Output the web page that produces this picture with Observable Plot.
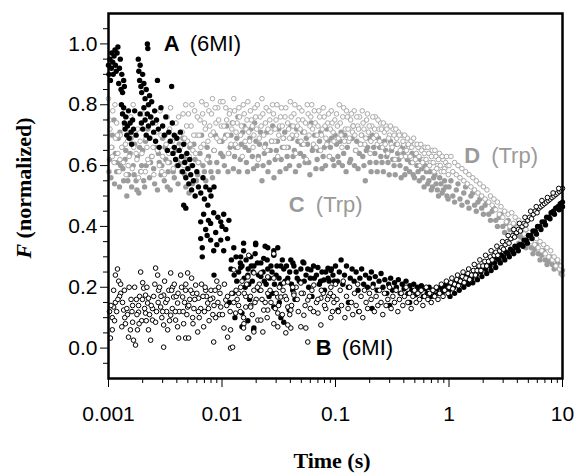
<!DOCTYPE html>
<html>
<head>
<meta charset="utf-8">
<script src="https://cdn.jsdelivr.net/npm/d3@7"></script>
<script src="https://cdn.jsdelivr.net/npm/@observablehq/plot@0.6"></script>
<style>
  html, body { margin: 0; padding: 0; background: #fff; }
  #chart { width: 574px; height: 473px; }
</style>
</head>
<body>
<div id="chart"></div>
<script>
// ---- Data: [time (s), F (normalized)] ----
// Series A (6MI), filled black
const seriesA = [
  [0.00100,0.93],[0.00101,0.90],[0.00103,0.95],[0.00104,0.88],[0.00106,0.92],[0.00107,0.97],[0.00109,0.94],[0.00110,0.90],[0.00112,0.96],[0.00114,0.98],[0.00115,0.93],[0.00117,0.91],[0.00119,0.97],[0.00121,0.99],[0.00123,0.87],[0.00125,0.92],[0.00127,0.95],[0.00129,0.85],[0.00131,0.90],[0.00133,0.84],[0.00136,0.88],[0.00138,0.86],
  [0.00130,0.80],[0.00133,0.77],[0.00136,0.79],[0.00138,0.74],[0.00140,0.72],[0.00142,0.76],[0.00145,0.70],[0.00147,0.73],[0.00150,0.78],[0.00152,0.69],[0.00155,0.74],[0.00158,0.71],[0.00160,0.67],[0.00163,0.75],[0.00166,0.72],[0.00170,0.78],[0.00175,0.70],
  [0.00183,0.95],[0.00185,0.91],[0.00188,0.88],[0.00190,0.93],[0.00193,0.86],[0.00196,0.84],[0.00200,0.90],[0.00205,0.87],[0.00210,0.82],[0.00215,0.85],[0.00220,1.00],[0.00222,0.985],[0.00225,0.80],[0.00230,0.83],
  [0.00190,0.77],[0.00195,0.74],[0.00200,0.72],[0.00205,0.79],[0.00210,0.75],[0.00215,0.70],[0.00220,0.77],[0.00225,0.73],[0.00230,0.69],[0.00235,0.76],[0.00240,0.81],[0.00245,0.74],[0.00250,0.71],[0.00255,0.78],[0.00260,0.68],[0.00265,0.75],[0.00270,0.88],[0.00275,0.72],[0.00280,0.66],[0.00290,0.79],[0.00300,0.73],[0.00310,0.70],[0.00320,0.76],[0.00330,0.65],[0.00340,0.71],[0.00350,0.68],[0.00360,0.86],[0.00365,0.74],[0.00370,0.64],[0.00380,0.70],
  [0.00380,0.66],[0.00390,0.62],[0.00400,0.69],[0.00410,0.60],[0.00420,0.65],[0.00430,0.71],[0.00440,0.63],[0.00450,0.58],[0.00460,0.67],[0.00470,0.61],[0.00480,0.56],[0.00490,0.64],[0.00500,0.59],[0.00510,0.54],[0.00520,0.62],[0.00530,0.57],[0.00540,0.52],[0.00550,0.60],[0.00560,0.55],[0.00580,0.50],[0.00600,0.58],[0.00620,0.53],
  [0.00650,0.51],[0.00680,0.56],[0.00700,0.49],[0.00720,0.53],[0.00750,0.47],[0.00780,0.52],[0.00800,0.50],[0.00850,0.53],[0.00460,0.47],[0.00480,0.46],
  [0.00689,0.44],[0.00845,0.445],[0.01035,0.44],[0.00649,0.415],[0.00794,0.41],[0.00975,0.415],[0.01150,0.42],[0.00718,0.39],[0.00880,0.38],[0.01080,0.39],[0.00649,0.36],[0.00794,0.355],[0.00975,0.355],[0.01120,0.36],[0.00670,0.33],[0.00845,0.32],[0.01035,0.32],[0.00670,0.30],[0.00760,0.42],[0.00920,0.43],[0.00740,0.37],[0.01000,0.40],[0.00900,0.34],
  [0.0127,0.33],[0.0155,0.32],[0.0198,0.345],[0.0253,0.33],[0.0310,0.33],[0.0146,0.30],[0.0179,0.30],[0.0233,0.295],[0.0286,0.305],[0.0146,0.265],[0.0191,0.27],[0.0253,0.26],[0.0330,0.27],[0.0169,0.24],[0.0220,0.235],[0.0404,0.29],[0.0526,0.28],[0.0699,0.265],[0.0911,0.255],
  [0.0155,0.345],[0.0198,0.34],[0.0240,0.335],[0.0286,0.32],[0.0421,0.28],[0.0516,0.283],[0.0607,0.257],[0.0858,0.263],[0.0790,0.224],
  [0.0286,0.135],[0.0330,0.10],[0.0191,0.066],[0.0169,0.09],[0.0150,0.115],[0.0190,0.06],[0.0150,0.07],[0.0130,0.10],[0.0116,0.15],[0.0350,0.085],[0.0390,0.125],[0.0085,0.24],
  [0.0120,0.26],[0.0135,0.22],[0.0145,0.28],[0.0160,0.20],[0.0170,0.26],[0.0185,0.22],[0.0205,0.28],[0.0215,0.19],[0.0230,0.25],[0.0245,0.21],[0.0270,0.27],[0.0280,0.18],[0.0300,0.24],[0.0330,0.21],[0.0350,0.26],[0.0380,0.23],[0.0420,0.19],[0.0450,0.25],[0.0480,0.22],[0.0550,0.24],[0.0580,0.20],[0.0650,0.23],[0.0720,0.21],[0.0760,0.25],[0.0800,0.19],[0.0880,0.22],[0.0950,0.24],[0.0125,0.18],[0.0175,0.16],[0.0260,0.17],[0.0320,0.15],[0.0440,0.16],[0.0620,0.17],
  [0.0121,0.29],[0.0128,0.24],[0.0133,0.30],[0.0140,0.25],[0.0150,0.27],[0.0157,0.23],[0.0163,0.29],[0.0172,0.21],[0.0181,0.27],[0.0188,0.25],[0.0196,0.31],[0.0210,0.24],[0.0220,0.28],[0.0236,0.22],[0.0250,0.29],[0.0262,0.23],[0.0276,0.25],[0.0290,0.21],[0.0305,0.27],[0.0318,0.23],[0.0340,0.29],[0.0360,0.22],[0.0370,0.27],[0.0395,0.25],[0.0410,0.21],[0.0430,0.27],[0.0460,0.23],[0.0495,0.26],[0.0530,0.22],[0.0570,0.26],[0.0600,0.23],[0.0640,0.27],[0.0680,0.24],[0.0740,0.22],[0.0820,0.25],[0.0860,0.23],[0.0920,0.26],[0.0980,0.22],
  [0.100,0.27],[0.104,0.22],[0.108,0.25],[0.112,0.29],[0.116,0.21],[0.120,0.24],[0.125,0.27],[0.130,0.20],[0.135,0.23],[0.140,0.26],[0.146,0.22],[0.152,0.25],[0.158,0.19],[0.164,0.23],[0.170,0.26],[0.177,0.21],[0.184,0.24],[0.191,0.20],[0.199,0.23],[0.207,0.25],[0.215,0.21],[0.224,0.235],[0.233,0.19],[0.242,0.22],[0.252,0.245],[0.262,0.20],[0.272,0.225],[0.283,0.18],[0.294,0.21],[0.306,0.23],[0.318,0.19],[0.331,0.215],[0.344,0.20],[0.358,0.225],[0.372,0.18],[0.387,0.21],[0.402,0.195],[0.418,0.22],[0.435,0.18],[0.452,0.205],[0.470,0.19],[0.489,0.21],[0.508,0.175],[0.528,0.20],[0.549,0.185],[0.571,0.205],[0.594,0.17],[0.618,0.195],[0.642,0.18],[0.668,0.20],[0.694,0.17],[0.722,0.19],[0.751,0.175],[0.781,0.195],[0.812,0.18],[0.844,0.20],[0.878,0.185],[0.913,0.205],[0.949,0.19],[0.987,0.21],
  [0.130,0.15],[0.210,0.13],[0.300,0.14],[0.450,0.15],[0.160,0.12],[0.105,0.125],
  [1.00,0.19],[1.05,0.21],[1.10,0.20],[1.15,0.22],[1.20,0.21],[1.26,0.225],[1.32,0.215],[1.38,0.235],[1.45,0.225],[1.52,0.24],[1.59,0.23],[1.66,0.25],[1.74,0.24],[1.82,0.26],[1.91,0.25],[2.00,0.265],[2.10,0.26],[2.20,0.275],[2.30,0.27],[2.41,0.285],[2.52,0.28],[2.64,0.295],[2.76,0.29],[2.89,0.305],[3.03,0.30],[3.17,0.315],[3.32,0.31],[3.48,0.325],[3.64,0.32],[3.81,0.335],[3.99,0.33],[4.18,0.34],[4.38,0.34],[4.58,0.355],[4.80,0.355],[5.02,0.37],[5.26,0.37],[5.50,0.385],[5.76,0.385],[6.03,0.40],[6.32,0.40],[6.61,0.415],[6.92,0.415],[7.25,0.43],[7.59,0.43],[7.94,0.445],[8.32,0.45],[8.71,0.46],[9.12,0.465],[9.55,0.475],[10.0,0.48],
  [1.02,0.17],[1.12,0.18],[1.23,0.19],[1.35,0.20],[1.48,0.21],[1.62,0.215],[1.78,0.225],[1.95,0.235],[2.15,0.245],[2.35,0.255],[2.58,0.265],[2.83,0.28],[3.10,0.29],[3.40,0.30],[3.72,0.31],[4.08,0.32],[4.48,0.335],[4.90,0.345],[5.38,0.36],[5.90,0.375],[6.46,0.39],[7.08,0.405],[7.76,0.425],[8.50,0.44],[9.33,0.455],[10.0,0.465]
];

// Series B (6MI), open black
const seriesB = [
  [0.00120,0.26],[0.00115,0.24],[0.00123,0.22],[0.00128,0.21],[0.00111,0.19],[0.00128,0.18],[0.00115,0.15],[0.00133,0.15],[0.00111,0.135],[0.00136,0.125],[0.00108,0.10],[0.00147,0.11],[0.00141,0.08],[0.00163,0.085],[0.00108,0.06],[0.00104,0.033],[0.00150,0.036],[0.00166,0.026],[0.00173,0.01],[0.00156,0.06],[0.00180,0.06],[0.00163,0.14],[0.00184,0.14],[0.00200,0.215],[0.00192,0.25],[0.00204,0.197],[0.00212,0.174],[0.00225,0.164],[0.00221,0.148],[0.00184,0.118],[0.00212,0.115],[0.00244,0.13],[0.00244,0.092],[0.00225,0.06],[0.00235,0.026],[0.00260,0.263],[0.00271,0.24],[0.00276,0.19],[0.00306,0.174],[0.00319,0.15],[0.00288,0.135],[0.00260,0.085],[0.00306,0.076],[0.00332,0.06],[0.00306,0.003],[0.00353,0.247],[0.00367,0.20],[0.00375,0.168],[0.00406,0.148],[0.00353,0.108],[0.00390,0.092],[0.00406,0.07],[0.00415,0.033],[0.00478,0.033],[0.00508,0.033],[0.00432,0.24],[0.00498,0.247],[0.00478,0.19],[0.00450,0.168],[0.00498,0.135],[0.00459,0.08],[0.00551,0.18],[0.00586,0.207],[0.00622,0.164],[0.00551,0.10],[0.00611,0.053],[0.00649,0.13],[0.00718,0.19],[0.00748,0.148],[0.00689,0.07],[0.00828,0.164],[0.00879,0.10],[0.00845,0.02],[0.00935,0.20],[0.00975,0.135],
  [0.00105,0.14],[0.00118,0.12],[0.00125,0.17],[0.00138,0.19],[0.00145,0.13],[0.00158,0.16],[0.00170,0.20],[0.00178,0.11],[0.00188,0.17],[0.00196,0.09],[0.00208,0.13],[0.00218,0.20],[0.00230,0.11],[0.00250,0.17],[0.00265,0.12],[0.00282,0.20],[0.00295,0.10],[0.00312,0.22],[0.00325,0.12],[0.00340,0.19],[0.00365,0.13],[0.00380,0.21],[0.00395,0.17],[0.00420,0.12],[0.00440,0.20],[0.00468,0.15],[0.00490,0.11],[0.00520,0.16],[0.00540,0.23],[0.00565,0.13],[0.00600,0.18],[0.00630,0.10],[0.00660,0.21],[0.00700,0.12],[0.00730,0.17],[0.00770,0.09],[0.00800,0.19],[0.00850,0.14],[0.00900,0.22],[0.00950,0.11],
  [0.00102,0.12],[0.00113,0.09],[0.00121,0.16],[0.00131,0.07],[0.00139,0.10],[0.00152,0.20],[0.00161,0.12],[0.00176,0.16],[0.00186,0.08],[0.00199,0.16],[0.00215,0.09],[0.00238,0.14],[0.00256,0.21],[0.00274,0.15],[0.00290,0.17],[0.00300,0.12],[0.00330,0.16],[0.00345,0.09],[0.00360,0.19],[0.00388,0.12],[0.00410,0.18],[0.00455,0.12],[0.00480,0.21],[0.00510,0.14],[0.00530,0.19],[0.00555,0.08],[0.00575,0.16],[0.00620,0.12],[0.00680,0.17],[0.00710,0.20],[0.00760,0.13],[0.00790,0.16],[0.00830,0.11],[0.00870,0.19],[0.00920,0.15],[0.00960,0.18],
  [0.0104,0.066],[0.0112,0.036],[0.0119,0.0],[0.0124,0.003],[0.0108,0.158],[0.0132,0.115],[0.0140,0.18],[0.0162,0.135],[0.0156,0.08],[0.0172,0.033],[0.0172,0.305],
  [0.0286,0.31],[0.0127,0.257],[0.0191,0.247],[0.0253,0.234],[0.0350,0.214],[0.0146,0.20],[0.0220,0.19],[0.0310,0.168],[0.0430,0.18],[0.0127,0.15],[0.0179,0.14],[0.0253,0.125],[0.0380,0.135],[0.0155,0.10],[0.0207,0.092],[0.0310,0.07],[0.0404,0.066],[0.0365,0.05],[0.0169,0.033],[0.0119,0.06],
  [0.0169,0.234],[0.0220,0.247],[0.0286,0.23],[0.0380,0.217],[0.0495,0.214],[0.0644,0.207],[0.0910,0.20],[0.0191,0.19],[0.0253,0.18],[0.0330,0.168],[0.0430,0.174],[0.0570,0.158],[0.0743,0.164],[0.0968,0.15],[0.0179,0.135],[0.0233,0.125],[0.0310,0.115],[0.0404,0.125],[0.0526,0.108],[0.0700,0.115],[0.0910,0.10],[0.0220,0.092],[0.0286,0.08],[0.0380,0.076],[0.0495,0.07],[0.0743,0.076],[0.0155,0.066],[0.0191,0.053],[0.0229,0.053],[0.0548,0.066],[0.0570,0.02],
  [0.0105,0.21],[0.0112,0.17],[0.0118,0.12],[0.0133,0.19],[0.0140,0.14],[0.0150,0.22],[0.0162,0.17],[0.0185,0.11],[0.0200,0.16],[0.0213,0.21],[0.0240,0.15],[0.0265,0.19],[0.0295,0.13],[0.0320,0.20],[0.0340,0.11],[0.0360,0.17],[0.0410,0.14],[0.0450,0.20],[0.0470,0.12],[0.0520,0.18],[0.0600,0.13],[0.0620,0.19],[0.0680,0.15],[0.0780,0.18],[0.0820,0.13],[0.0870,0.17],[0.0940,0.12],
  [0.0101,0.11],[0.0110,0.14],[0.0122,0.18],[0.0136,0.16],[0.0145,0.12],[0.0157,0.18],[0.0165,0.21],[0.0178,0.17],[0.0195,0.15],[0.0205,0.20],[0.0225,0.16],[0.0250,0.10],[0.0270,0.15],[0.0300,0.18],[0.0315,0.14],[0.0345,0.19],[0.0370,0.16],[0.0395,0.11],[0.0420,0.20],[0.0460,0.16],[0.0500,0.18],[0.0540,0.14],[0.0590,0.17],[0.0640,0.12],[0.0700,0.16],[0.0750,0.19],[0.0800,0.14],[0.0850,0.16],[0.0900,0.18],[0.0960,0.17],
  [0.100,0.21],[0.103,0.16],[0.106,0.12],[0.110,0.19],[0.113,0.14],[0.117,0.22],[0.121,0.10],[0.125,0.17],[0.129,0.13],[0.133,0.20],[0.138,0.15],[0.142,0.11],[0.147,0.18],[0.152,0.14],[0.157,0.21],[0.162,0.12],[0.168,0.17],[0.174,0.10],[0.180,0.19],[0.186,0.15],[0.192,0.13],[0.199,0.18],[0.206,0.16],[0.213,0.20],[0.220,0.12],[0.228,0.17],[0.236,0.14],[0.244,0.19],[0.252,0.15],[0.261,0.11],[0.270,0.18],[0.279,0.14],[0.289,0.16],[0.299,0.20],[0.309,0.13],[0.320,0.17],[0.331,0.15],[0.342,0.19],[0.354,0.12],[0.366,0.16],[0.379,0.18],[0.392,0.14],[0.405,0.17],[0.419,0.20],[0.434,0.15],[0.449,0.18],[0.464,0.13],[0.480,0.17],[0.497,0.19],[0.514,0.15],[0.532,0.18],[0.550,0.16],[0.569,0.19],[0.589,0.14],[0.609,0.17],[0.630,0.20],[0.652,0.16],[0.675,0.18],[0.698,0.15],[0.722,0.19],[0.747,0.17],[0.773,0.20],[0.800,0.16],[0.827,0.18],[0.856,0.21],[0.886,0.17],[0.916,0.19],[0.948,0.22],[0.981,0.18],
  [1.00,0.20],[1.04,0.215],[1.08,0.195],[1.12,0.21],[1.17,0.225],[1.21,0.205],[1.26,0.22],[1.31,0.235],[1.36,0.215],[1.41,0.23],[1.47,0.245],[1.52,0.225],[1.58,0.24],[1.64,0.255],[1.71,0.24],[1.77,0.255],[1.84,0.27],[1.91,0.255],[1.99,0.27],[2.07,0.285],[2.15,0.27],[2.23,0.285],[2.31,0.30],[2.40,0.29],[2.50,0.305],[2.59,0.315],[2.69,0.305],[2.80,0.32],[2.91,0.33],[3.02,0.325],[3.13,0.34],[3.26,0.35],[3.38,0.345],[3.51,0.36],[3.65,0.37],[3.79,0.365],[3.94,0.38],[4.09,0.39],[4.25,0.385],[4.41,0.40],[4.58,0.41],[4.76,0.405],[4.94,0.42],[5.13,0.43],[5.33,0.425],[5.54,0.44],[5.75,0.45],[5.97,0.445],[6.20,0.46],[6.44,0.465],[6.69,0.47],[6.95,0.475],[7.22,0.48],[7.50,0.485],[7.79,0.49],[8.09,0.495],[8.40,0.50],[8.73,0.505],[9.06,0.51],[9.41,0.515],[9.70,0.52],[10.0,0.525],
  [1.06,0.23],[1.19,0.24],[1.33,0.25],[1.49,0.26],[1.67,0.275],[1.87,0.29],[2.10,0.305],[2.35,0.32],[2.64,0.335],[2.96,0.35],[3.32,0.37],[3.72,0.39],[4.17,0.41],[4.67,0.43],[5.24,0.45],[5.87,0.465],[6.58,0.485],[7.37,0.495],[8.26,0.51],[9.26,0.525]
];

// Series C (Trp), filled gray
const seriesC = [
  [0.00102,0.62],[0.00105,0.56],[0.00108,0.70],[0.00112,0.75],[0.00115,0.64],[0.00118,0.58],[0.00122,0.69],[0.00125,0.53],[0.00128,0.60],[0.00132,0.66],[0.00136,0.55],[0.00140,0.62],[0.00145,0.50],[0.00150,0.57],[0.00155,0.64],[0.00160,0.53],[0.00165,0.60],[0.00170,0.67],[0.00175,0.55],[0.00180,0.63],[0.00185,0.51],[0.00192,0.58],[0.00200,0.65],[0.00208,0.53],[0.00215,0.60],[0.00222,0.72],[0.00230,0.56],[0.00240,0.63],[0.00250,0.59],[0.00260,0.66],[0.00270,0.52],[0.00280,0.61],[0.00290,0.57],[0.00300,0.69],[0.00310,0.55],[0.00320,0.62],[0.00335,0.58],[0.00350,0.52],[0.00365,0.64],[0.00380,0.56],[0.00400,0.60],[0.00420,0.67],[0.00440,0.58],[0.00460,0.63],[0.00480,0.53],[0.00500,0.59],[0.00520,0.66],[0.00550,0.54],[0.00580,0.62],[0.00610,0.57],[0.00640,0.64],[0.00680,0.60],[0.00720,0.55],[0.00760,0.63],[0.00800,0.58],[0.00850,0.65],[0.00900,0.61],[0.00950,0.68],
  [0.00101,0.58],[0.00107,0.66],[0.00113,0.54],[0.00120,0.61],[0.00126,0.71],[0.00134,0.59],[0.00142,0.65],[0.00148,0.55],[0.00158,0.69],[0.00168,0.57],[0.00178,0.52],[0.00188,0.66],[0.00196,0.60],[0.00204,0.55],[0.00212,0.68],[0.00235,0.61],[0.00255,0.54],[0.00275,0.64],[0.00295,0.60],[0.00315,0.66],[0.00330,0.53],[0.00345,0.61],[0.00372,0.58],[0.00390,0.65],[0.00410,0.54],[0.00432,0.61],[0.00452,0.69],[0.00470,0.57],[0.00492,0.62],[0.00512,0.51],[0.00535,0.60],[0.00565,0.67],[0.00595,0.55],[0.00625,0.61],[0.00660,0.70],[0.00700,0.58],[0.00740,0.66],[0.00780,0.61],[0.00825,0.56],[0.00875,0.70],[0.00925,0.58],[0.00975,0.64],
  [0.0100,0.68],[0.0105,0.60],[0.0110,0.73],[0.0115,0.64],[0.0120,0.70],[0.0126,0.59],[0.0132,0.66],[0.0138,0.76],[0.0145,0.62],[0.0152,0.71],[0.0160,0.66],[0.0168,0.58],[0.0176,0.69],[0.0185,0.63],[0.0194,0.74],[0.0204,0.60],[0.0214,0.67],[0.0225,0.55],[0.0236,0.64],[0.0248,0.71],[0.0260,0.61],[0.0273,0.68],[0.0287,0.56],[0.0301,0.65],[0.0316,0.72],[0.0332,0.62],[0.0348,0.69],[0.0366,0.59],[0.0384,0.66],[0.0403,0.73],[0.0423,0.63],[0.0444,0.58],[0.0466,0.68],[0.0490,0.64],[0.0514,0.71],[0.0540,0.61],[0.0567,0.67],[0.0595,0.57],[0.0625,0.65],[0.0656,0.70],[0.0689,0.62],[0.0723,0.68],[0.0760,0.59],[0.0798,0.66],[0.0838,0.72],[0.0880,0.63],[0.0924,0.69],[0.0970,0.60],
  [0.0102,0.63],[0.0108,0.70],[0.0113,0.58],[0.0118,0.66],[0.0123,0.74],[0.0129,0.63],[0.0135,0.69],[0.0141,0.58],[0.0148,0.67],[0.0156,0.73],[0.0164,0.61],[0.0172,0.65],[0.0180,0.72],[0.0190,0.59],[0.0199,0.68],[0.0209,0.63],[0.0219,0.71],[0.0230,0.60],[0.0242,0.67],[0.0254,0.58],[0.0266,0.65],[0.0280,0.73],[0.0294,0.62],[0.0308,0.68],[0.0324,0.58],[0.0340,0.66],[0.0357,0.71],[0.0375,0.63],[0.0394,0.60],[0.0413,0.69],[0.0434,0.65],[0.0455,0.72],[0.0478,0.60],[0.0502,0.67],[0.0527,0.63],[0.0553,0.69],[0.0581,0.61],[0.0610,0.74],[0.0640,0.66],[0.0672,0.59],[0.0706,0.65],[0.0741,0.71],[0.0778,0.63],[0.0817,0.60],[0.0858,0.68],[0.0901,0.66],[0.0946,0.62],[0.0993,0.70],
  [0.102,0.67],[0.107,0.61],[0.112,0.71],[0.118,0.64],[0.124,0.58],[0.130,0.68],[0.136,0.62],[0.143,0.73],[0.150,0.65],[0.158,0.59],[0.166,0.67],[0.174,0.63],[0.183,0.55],[0.192,0.66],[0.201,0.61],[0.211,0.70],[0.222,0.64],[0.233,0.58],[0.245,0.66],[0.257,0.61],[0.270,0.68],[0.283,0.63],[0.297,0.57],[0.312,0.65],[0.328,0.60],[0.344,0.67],[0.361,0.62],[0.379,0.56],[0.398,0.64],[0.418,0.59],[0.439,0.66],[0.461,0.61],[0.484,0.57],[0.508,0.63],[0.534,0.58],[0.560,0.62],[0.588,0.56],[0.618,0.60],[0.649,0.54],[0.681,0.58],[0.715,0.53],[0.751,0.57],[0.789,0.52],[0.828,0.56],[0.870,0.51],[0.913,0.55],[0.959,0.50],
  [0.105,0.63],[0.110,0.68],[0.115,0.60],[0.121,0.70],[0.127,0.66],[0.133,0.61],[0.140,0.69],[0.147,0.60],[0.154,0.68],[0.162,0.64],[0.170,0.70],[0.178,0.60],[0.187,0.65],[0.197,0.69],[0.206,0.58],[0.217,0.66],[0.228,0.61],[0.239,0.69],[0.251,0.63],[0.264,0.58],[0.277,0.65],[0.290,0.61],[0.305,0.68],[0.320,0.62],[0.336,0.57],[0.353,0.64],[0.370,0.60],[0.389,0.66],[0.408,0.57],[0.429,0.62],[0.450,0.58],[0.473,0.64],[0.496,0.56],[0.521,0.60],[0.547,0.55],[0.574,0.59],[0.603,0.53],[0.633,0.58],[0.665,0.55],[0.698,0.52],[0.733,0.56],[0.770,0.54],[0.808,0.50],[0.849,0.54],[0.891,0.52],[0.936,0.53],[0.982,0.49],
  [1.00,0.53],[1.08,0.50],[1.16,0.52],[1.25,0.49],[1.35,0.51],[1.45,0.48],[1.56,0.50],[1.68,0.47],[1.80,0.48],[1.94,0.46],[2.08,0.47],[2.24,0.44],[2.40,0.45],[2.58,0.42],[2.77,0.43],[2.98,0.40],[3.20,0.41],[3.44,0.39],[3.70,0.385],[3.97,0.37],[4.27,0.365],[4.59,0.35],[4.93,0.345],[5.30,0.33],[5.69,0.325],[6.11,0.31],[6.57,0.305],[7.05,0.29],[7.58,0.285],[8.14,0.275],[8.75,0.27],[9.40,0.26],[10.0,0.255],
  [1.04,0.55],[1.12,0.48],[1.20,0.54],[1.30,0.47],[1.40,0.53],[1.50,0.46],[1.62,0.51],[1.74,0.45],[1.87,0.49],[2.01,0.44],[2.16,0.48],[2.32,0.42],[2.49,0.46],[2.67,0.40],[2.87,0.44],[3.09,0.38],[3.32,0.42],[3.57,0.36],[3.83,0.40],[4.12,0.345],[4.43,0.38],[4.76,0.33],[5.11,0.36],[5.49,0.31],[5.90,0.34],[6.34,0.29],[6.81,0.32],[7.31,0.275],[7.86,0.30],[8.44,0.26],[9.07,0.28],[9.70,0.245]
];

// Series D (Trp), open gray
const seriesD = [
  [0.00100,0.82],[0.00103,0.72],[0.00106,0.66],[0.00109,0.78],[0.00112,0.61],[0.00115,0.69],[0.00118,0.74],[0.00121,0.64],[0.00124,0.58],[0.00127,0.70],[0.00131,0.66],[0.00135,0.61],[0.00139,0.73],[0.00143,0.57],[0.00147,0.68],[0.00152,0.63],[0.00157,0.76],[0.00162,0.59],[0.00167,0.66],[0.00172,0.71],[0.00178,0.62],[0.00184,0.56],[0.00190,0.68],[0.00197,0.64],[0.00204,0.72],[0.00211,0.58],[0.00218,0.66],[0.00226,0.61],[0.00234,0.69],[0.00242,0.63],[0.00251,0.57],[0.00260,0.74],[0.00270,0.65],[0.00280,0.60],[0.00290,0.70],[0.00300,0.63],[0.00311,0.57],[0.00322,0.67],[0.00334,0.61],[0.00346,0.72],[0.00359,0.65],[0.00372,0.59],[0.00386,0.69],[0.00400,0.62],[0.00415,0.76],[0.00430,0.66],[0.00446,0.71],[0.00462,0.60],[0.00479,0.80],[0.00497,0.68],[0.00515,0.63],[0.00534,0.73],[0.00554,0.65],[0.00574,0.78],[0.00595,0.70],[0.00617,0.61],[0.00640,0.75],[0.00663,0.81],[0.00688,0.67],[0.00713,0.72],[0.00739,0.62],[0.00766,0.78],[0.00794,0.70],[0.00823,0.82],[0.00854,0.65],[0.00885,0.74],[0.00917,0.79],[0.00951,0.68],[0.00986,0.73],
  [0.00102,0.75],[0.00108,0.63],[0.00114,0.80],[0.00120,0.70],[0.00126,0.62],[0.00133,0.77],[0.00141,0.67],[0.00149,0.60],[0.00155,0.71],[0.00165,0.80],[0.00175,0.64],[0.00181,0.72],[0.00194,0.58],[0.00201,0.77],[0.00214,0.69],[0.00222,0.62],[0.00238,0.76],[0.00247,0.66],[0.00265,0.71],[0.00285,0.78],[0.00295,0.58],[0.00316,0.70],[0.00328,0.76],[0.00340,0.64],[0.00352,0.79],[0.00365,0.68],[0.00393,0.74],[0.00408,0.66],[0.00422,0.70],[0.00438,0.62],[0.00454,0.77],[0.00470,0.69],[0.00488,0.73],[0.00506,0.77],[0.00524,0.67],[0.00544,0.80],[0.00564,0.70],[0.00585,0.64],[0.00606,0.76],[0.00628,0.70],[0.00651,0.66],[0.00675,0.77],[0.00700,0.74],[0.00726,0.80],[0.00752,0.68],[0.00780,0.73],[0.00808,0.77],[0.00838,0.71],[0.00869,0.79],[0.00901,0.69],[0.00934,0.75],[0.00968,0.81],
  [0.0102,0.81],[0.0106,0.69],[0.0110,0.75],[0.0114,0.64],[0.0118,0.78],[0.0122,0.72],[0.0127,0.82],[0.0131,0.67],[0.0136,0.74],[0.0141,0.79],[0.0146,0.70],[0.0151,0.63],[0.0157,0.77],[0.0163,0.72],[0.0169,0.81],[0.0175,0.68],[0.0181,0.75],[0.0188,0.66],[0.0195,0.79],[0.0202,0.72],[0.0209,0.62],[0.0217,0.76],[0.0225,0.82],[0.0233,0.70],[0.0241,0.74],[0.0250,0.65],[0.0259,0.78],[0.0269,0.71],[0.0279,0.80],[0.0289,0.68],[0.0299,0.75],[0.0310,0.63],[0.0322,0.73],[0.0334,0.79],[0.0346,0.69],[0.0359,0.76],[0.0372,0.66],[0.0386,0.72],[0.0400,0.81],[0.0415,0.70],[0.0430,0.77],[0.0446,0.64],[0.0462,0.73],[0.0479,0.79],[0.0497,0.68],[0.0515,0.75],[0.0534,0.71],[0.0554,0.62],[0.0574,0.77],[0.0595,0.73],[0.0617,0.80],[0.0640,0.67],[0.0663,0.74],[0.0688,0.70],[0.0713,0.78],[0.0739,0.65],[0.0766,0.72],[0.0794,0.76],[0.0823,0.69],[0.0854,0.74],[0.0885,0.63],[0.0917,0.78],[0.0951,0.71],[0.0986,0.75],
  [0.0104,0.73],[0.0108,0.79],[0.0112,0.70],[0.0116,0.77],[0.0120,0.67],[0.0125,0.74],[0.0129,0.78],[0.0133,0.71],[0.0138,0.66],[0.0143,0.76],[0.0148,0.73],[0.0154,0.80],[0.0160,0.68],[0.0166,0.75],[0.0172,0.71],[0.0178,0.78],[0.0185,0.73],[0.0191,0.70],[0.0198,0.76],[0.0205,0.80],[0.0213,0.69],[0.0221,0.73],[0.0229,0.77],[0.0237,0.66],[0.0245,0.79],[0.0254,0.72],[0.0264,0.75],[0.0274,0.68],[0.0284,0.77],[0.0294,0.72],[0.0305,0.80],[0.0316,0.70],[0.0328,0.76],[0.0340,0.73],[0.0352,0.66],[0.0365,0.79],[0.0379,0.74],[0.0393,0.69],[0.0407,0.76],[0.0422,0.73],[0.0438,0.80],[0.0454,0.70],[0.0470,0.75],[0.0488,0.72],[0.0506,0.78],[0.0524,0.67],[0.0544,0.74],[0.0564,0.80],[0.0585,0.70],[0.0606,0.76],[0.0628,0.72],[0.0651,0.78],[0.0675,0.66],[0.0700,0.73],[0.0726,0.76],[0.0752,0.70],[0.0780,0.79],[0.0808,0.73],[0.0838,0.67],[0.0869,0.77],[0.0901,0.72],[0.0934,0.74],[0.0968,0.68],
  [0.102,0.77],[0.106,0.69],[0.110,0.74],[0.114,0.66],[0.118,0.79],[0.122,0.72],[0.127,0.76],[0.131,0.68],[0.136,0.75],[0.141,0.71],[0.146,0.78],[0.151,0.65],[0.157,0.73],[0.163,0.76],[0.169,0.70],[0.175,0.74],[0.181,0.67],[0.188,0.75],[0.195,0.71],[0.202,0.64],[0.209,0.73],[0.217,0.69],[0.225,0.76],[0.233,0.67],[0.241,0.72],[0.250,0.74],[0.259,0.66],[0.269,0.71],[0.279,0.73],[0.289,0.64],[0.299,0.70],[0.310,0.67],[0.322,0.72],[0.334,0.62],[0.346,0.69],[0.359,0.71],[0.372,0.65],[0.386,0.70],[0.400,0.67],[0.415,0.63],[0.430,0.69],[0.446,0.66],[0.462,0.68],[0.479,0.61],[0.497,0.67],[0.515,0.64],[0.534,0.66],[0.554,0.60],[0.574,0.65],[0.595,0.62],[0.617,0.66],[0.640,0.59],[0.663,0.64],[0.688,0.61],[0.713,0.65],[0.739,0.58],[0.766,0.63],[0.794,0.60],[0.823,0.64],[0.854,0.58],[0.885,0.62],[0.917,0.59],[0.951,0.63],[0.986,0.57],
  [0.104,0.73],[0.108,0.80],[0.112,0.70],[0.116,0.76],[0.120,0.68],[0.125,0.78],[0.129,0.72],[0.133,0.69],[0.138,0.77],[0.143,0.73],[0.148,0.70],[0.154,0.76],[0.160,0.72],[0.166,0.67],[0.172,0.78],[0.178,0.72],[0.185,0.69],[0.191,0.77],[0.198,0.73],[0.205,0.68],[0.213,0.76],[0.221,0.72],[0.229,0.70],[0.237,0.75],[0.245,0.68],[0.254,0.72],[0.264,0.74],[0.274,0.67],[0.284,0.72],[0.294,0.69],[0.305,0.73],[0.316,0.66],[0.328,0.70],[0.340,0.72],[0.352,0.67],[0.365,0.70],[0.379,0.63],[0.393,0.68],[0.407,0.70],[0.422,0.65],[0.438,0.67],[0.454,0.63],[0.470,0.66],[0.488,0.69],[0.506,0.62],[0.524,0.67],[0.544,0.63],[0.564,0.67],[0.585,0.61],[0.606,0.64],[0.628,0.62],[0.651,0.66],[0.675,0.60],[0.700,0.63],[0.726,0.61],[0.752,0.65],[0.780,0.59],[0.808,0.62],[0.838,0.60],[0.869,0.63],[0.901,0.58],[0.934,0.61],[0.968,0.60],
  [1.00,0.60],[1.04,0.63],[1.08,0.58],[1.12,0.61],[1.16,0.57],[1.20,0.60],[1.25,0.56],[1.30,0.59],[1.35,0.55],[1.40,0.58],[1.45,0.54],[1.50,0.57],[1.56,0.53],[1.62,0.56],[1.68,0.52],[1.74,0.55],[1.80,0.51],[1.87,0.54],[1.94,0.50],[2.01,0.53],[2.08,0.49],[2.16,0.52],[2.24,0.48],[2.32,0.50],[2.40,0.47],[2.49,0.49],[2.58,0.455],[2.67,0.48],[2.77,0.44],[2.87,0.465],[2.98,0.43],[3.09,0.45],[3.20,0.415],[3.32,0.44],[3.44,0.40],[3.57,0.445],[3.70,0.41],[3.83,0.43],[3.97,0.395],[4.12,0.42],[4.27,0.385],[4.43,0.405],[4.59,0.375],[4.76,0.39],[4.93,0.36],[5.11,0.38],[5.30,0.35],[5.49,0.37],[5.69,0.34],[5.90,0.36],[6.11,0.33],[6.34,0.35],[6.57,0.32],[6.81,0.34],[7.05,0.31],[7.31,0.33],[7.58,0.30],[7.86,0.32],[8.14,0.29],[8.44,0.30],[8.75,0.27],[9.07,0.29],[9.40,0.26],[9.70,0.27],[10.0,0.24]
];

// Tick values
const xMajorTicks = [0.001, 0.01, 0.1, 1, 10];
const xMinorTicks = [0.002,0.003,0.004,0.005,0.006,0.007,0.008,0.009,
                     0.02,0.03,0.04,0.05,0.06,0.07,0.08,0.09,
                     0.2,0.3,0.4,0.5,0.6,0.7,0.8,0.9,
                     2,3,4,5,6,7,8,9];
const yMajorTicks = [0, 0.2, 0.4, 0.6, 0.8, 1.0];
const yMinorTicks = [-0.05, 0.05, 0.1, 0.15, 0.25, 0.3, 0.35, 0.45, 0.5, 0.55, 0.65, 0.7, 0.75, 0.85, 0.9, 0.95, 1.05];

// Series labels (anchor point in data coordinates)
const darkLabels = [
  {t: 0.00306, F: 1.0, letter: "A", rest: "(6MI)"},
  {t: 0.067, F: 0.0, letter: "B", rest: "(6MI)"}
];
const grayLabels = [
  {t: 0.0388, F: 0.472, letter: "C", rest: "(Trp)"},
  {t: 1.36, F: 0.632, letter: "D", rest: "(Trp)"}
];

const GRAY_FILL = "#9c9c9c";
const GRAY_OPEN = "#a9a9a9";
const LABEL_GRAY = "#9a9a9a";
const fx = d => d[0], fy = d => d[1];

const plot = Plot.plot({
  width: 574,
  height: 473,
  marginLeft: 108,
  marginRight: 12,
  marginTop: 13,
  marginBottom: 95,
  style: {fontFamily: "'Liberation Sans', Arial, Helvetica, sans-serif", background: "#fff", color: "#000"},
  x: {type: "log", domain: [0.001, 10]},
  y: {domain: [-0.1, 1.1]},
  marks: [
    Plot.dot(seriesC, {x: fx, y: fy, r: 2.7, fill: GRAY_FILL, stroke: "none"}),
    Plot.dot(seriesD, {x: fx, y: fy, r: 2.3, fill: "#fff", stroke: GRAY_OPEN, strokeWidth: 1}),
    Plot.dot(seriesA, {x: fx, y: fy, r: 2.7, fill: "#000", stroke: "none"}),
    Plot.dot(seriesB, {x: fx, y: fy, r: 2.3, fill: "#fff", stroke: "#000", strokeWidth: 1}),
    Plot.text(darkLabels, {x: "t", y: "F", text: "letter", textAnchor: "start", fontWeight: "bold", fontSize: 22, fill: "#000"}),
    Plot.text(darkLabels, {x: "t", y: "F", text: "rest", textAnchor: "start", dx: 26, fontSize: 22, fill: "#000"}),
    Plot.text(grayLabels, {x: "t", y: "F", text: "letter", textAnchor: "start", fontWeight: "bold", fontSize: 22, fill: LABEL_GRAY}),
    Plot.text(grayLabels, {x: "t", y: "F", text: "rest", textAnchor: "start", dx: 27, fontSize: 22, fill: LABEL_GRAY}),
    Plot.axisX({ticks: xMajorTicks, tickSize: 9, tickPadding: 19, tickFormat: d => String(d), fontSize: 21, label: null}),
    Plot.axisX({ticks: xMinorTicks, tickSize: 5, tickFormat: () => "", label: null}),
    Plot.axisY({ticks: yMajorTicks, tickSize: 8, tickPadding: 3, tickFormat: d3.format(".1f"), fontSize: 21, label: null}),
    Plot.axisY({ticks: yMinorTicks, tickSize: 5, tickFormat: () => "", label: null}),
    Plot.frame({stroke: "#000", strokeWidth: 2.5})
  ]
});

// Axis titles (serif, bold, with italic F)
const svg = d3.select(plot);
svg.append("text")
  .attr("x", 332).attr("y", 468)
  .attr("text-anchor", "middle")
  .attr("font-family", "'Liberation Serif', 'Times New Roman', serif")
  .attr("font-weight", "bold")
  .attr("font-size", 22)
  .attr("fill", "#000")
  .text("Time (s)");

const yt = svg.append("text")
  .attr("transform", "translate(31,188) rotate(-90)")
  .attr("text-anchor", "middle")
  .attr("font-family", "'Liberation Serif', 'Times New Roman', serif")
  .attr("font-weight", "bold")
  .attr("font-size", 22)
  .attr("fill", "#000");
yt.append("tspan").attr("font-style", "italic").text("F");
yt.append("tspan").text(" (normalized)");

document.getElementById("chart").appendChild(plot);
</script>
</body>
</html>
